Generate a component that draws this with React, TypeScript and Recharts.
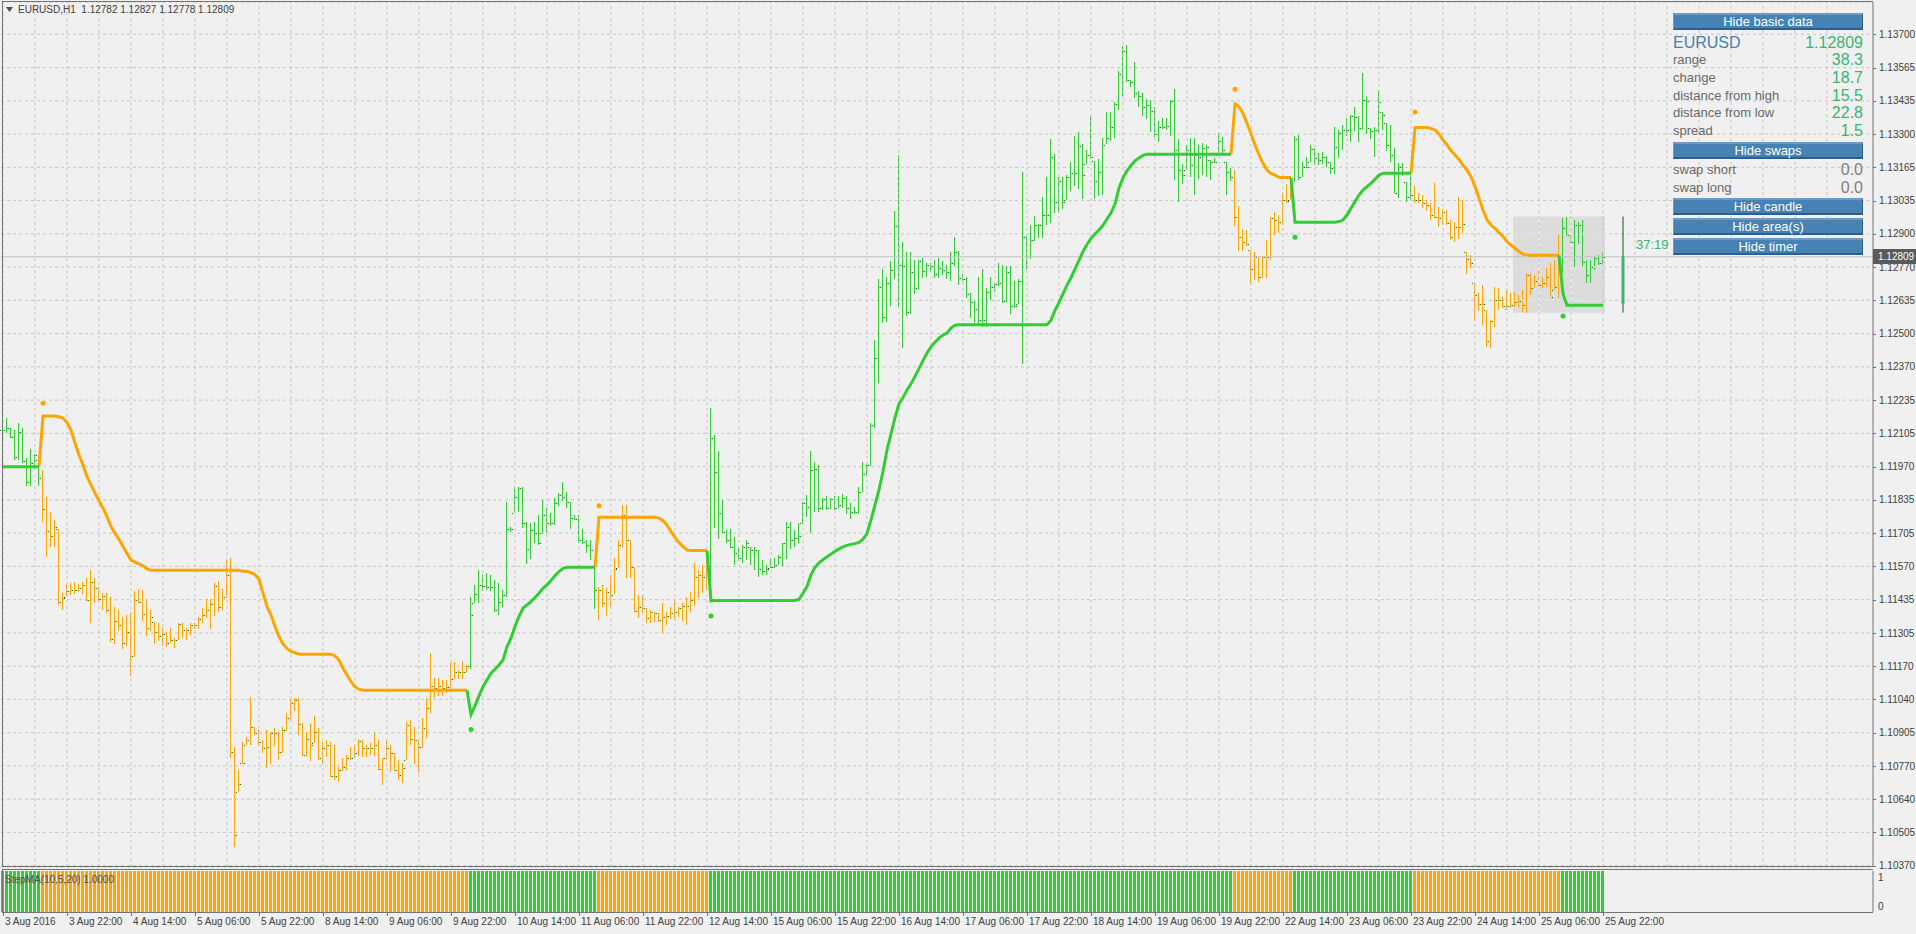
import React from 'react';
import { ComposedChart, Bar, Line, XAxis, YAxis, CartesianGrid, ReferenceLine, ReferenceArea } from 'recharts';

// ---------- DATA (prices stored as pips above 1.10000) ----------
const BASE = 1.1;
const PIP = 0.0001;

const highs = [
  214.2,216.2,212.2,211.5,214.2,212.2,200.2,203.8,201.9,199.5,
  195.5,184.8,178.8,175.5,171.8,146.1,149.7,150.4,150.6,149.8,
  150.8,152.1,155.5,152.1,148.8,146.1,146.1,144.8,140.8,139.4,
  136.8,137.4,138.1,147.2,147.7,147.4,143.4,139.4,134.8,134.1,
  132.1,130.8,132.1,128.1,134.1,134.1,132.1,134.1,134.1,136.8,
  140.1,143.7,143.7,150.1,151.1,147.7,159.5,160.2,84.7,75.4,
  86.7,88.7,104.7,92.7,91.4,87.4,91.4,90.7,92.1,90.7,
  92.7,98.1,103.4,104.1,104.1,94.1,90.7,94.1,96.8,92.1,
  86.7,87.4,86.7,85.4,76.7,80.1,81.4,84.7,85.4,87.7,
  87.4,85.4,86.1,90.1,87.4,80.1,87.4,85.4,82.1,79.4,
  78.0,94.7,95.4,92.7,87.4,96.0,104.0,122.1,112.1,112.1,
  111.4,111.4,118.1,118.4,115.4,118.8,117.4,144.8,149.5,155.5,
  153.5,154.1,153.5,151.5,150.1,147.5,182.8,172.8,188.8,188.8,
  188.6,174.8,174.1,174.8,177.5,183.5,180.2,178.2,184.2,186.2,
  190.6,186.8,182.8,177.5,177.5,171.7,167.5,167.5,156.8,148.8,
  149.5,148.1,153.5,160.1,167.5,181.5,181.5,167.5,156.8,145.5,
  145.5,140.1,139.4,138.8,138.1,142.1,138.8,140.8,143.5,140.8,
  142.1,144.8,146.8,158.1,155.5,157.5,162.8,220.2,209.5,202.9,
  183.5,171.5,171.7,168.8,164.1,165.5,167.5,164.8,164.8,163.5,
  159.5,157.5,160.1,160.1,161.5,166.2,174.8,174.8,171.5,174.1,
  182.8,185.5,202.9,198.7,197.3,184.4,185.1,184.4,185.1,185.1,
  185.8,185.1,182.2,180.8,188.7,198.7,198.0,214.5,247.5,272.0,
  275.8,272.7,279.1,299.2,321.5,287.0,282.7,283.0,279.8,279.8,
  280.6,278.4,278.4,279.8,280.6,279.0,277.7,282.7,288.7,283.4,
  274.1,272.7,266.2,263.3,272.7,275.8,268.4,272.7,270.5,278.4,
  277.7,277.0,277.0,271.2,272.0,315.0,289.2,293.5,297.1,294.2,
  305.0,312.8,327.9,322.2,312.8,312.8,313.6,318.9,329.4,330.8,
  326.1,323.6,337.3,319.3,320.0,328.6,338.7,339.0,343.0,355.2,
  365.3,365.7,351.6,358.8,347.3,346.6,344.0,343.7,340.8,335.1,
  336.5,336.5,343.7,348.0,327.9,317.9,325.8,328.6,328.6,325.8,
  326.3,325.7,319.7,320.3,330.3,329.0,319.0,316.3,315.6,301.2,
  291.9,291.6,283.6,283.0,280.9,281.2,287.6,297.0,299.0,297.6,
  306.3,310.0,311.6,329.3,329.7,319.0,321.0,325.7,324.3,322.6,
  323.0,321.3,319.0,333.0,331.7,333.7,336.3,337.7,340.7,337.3,
  354.4,345.0,332.3,333.0,347.7,339.0,334.3,333.7,324.3,318.3,
  318.3,311.0,314.3,309.2,306.3,305.6,303.6,302.3,310.3,301.0,
  299.9,299.6,295.6,295.0,305.0,303.6,283.0,281.6,270.3,266.3,
  269.6,259.6,255.6,268.9,268.3,264.9,267.6,266.3,266.9,265.6,
  267.6,274.3,274.3,273.6,275.6,272.9,276.9,278.3,279.6,290.3,
  296.3,297.0,290.3,295.6,295.0,295.6,279.6,279.6,280.9,281.6,
  282.7,
];

const lows = [
  206.9,210.2,208.2,199.5,199.5,198.2,188.8,188.8,196.6,189.1,
  174.8,160.8,164.8,164.8,141.4,139.4,144.8,145.4,145.8,146.4,
  146.1,142.8,134.1,142.1,142.8,139.4,138.1,126.8,126.1,130.8,
  124.1,124.8,112.8,120.8,142.1,134.8,129.0,130.8,126.1,126.8,
  124.8,124.8,126.1,124.1,127.4,128.1,127.4,129.4,131.7,132.1,
  134.1,136.1,131.7,136.8,138.8,139.4,144.1,80.0,44.7,66.7,
  78.0,85.4,85.4,89.4,85.4,82.1,76.1,78.0,84.7,79.4,
  82.1,90.7,95.4,98.8,89.4,80.7,80.7,78.7,86.1,79.4,
  78.0,80.7,72.7,71.4,70.7,74.7,75.4,79.4,80.1,80.7,
  80.7,80.7,81.4,80.7,75.4,69.4,79.4,74.7,74.7,71.4,
  70.1,79.4,85.4,78.0,74.0,84.0,88.0,98.0,104.0,105.0,
  105.0,106.0,107.0,111.4,111.6,111.6,114.1,116.1,142.4,142.4,
  147.1,147.1,147.1,138.8,137.4,140.8,144.8,170.8,178.4,178.8,
  172.1,158.1,159.5,166.2,165.5,170.1,170.1,172.8,173.5,180.8,
  182.8,180.2,172.1,175.5,166.2,165.5,162.1,159.5,140.1,135.4,
  140.8,136.8,140.8,145.5,156.1,164.1,152.1,152.1,138.8,136.1,
  138.1,134.1,134.1,134.8,134.4,130.1,133.4,136.1,135.4,136.8,
  134.8,133.4,138.8,140.8,144.1,146.1,147.5,142.1,172.1,167.5,
  170.1,166.2,164.1,157.5,158.8,158.1,159.5,157.5,155.5,152.8,
  153.5,153.5,156.1,156.1,157.5,156.8,160.1,164.1,164.8,166.2,
  174.1,176.8,170.1,178.6,178.6,179.4,179.4,180.1,179.4,180.1,
  180.1,177.9,175.8,177.9,177.9,186.5,193.0,197.3,212.4,230.3,
  254.0,254.7,261.2,272.0,260.5,244.7,256.9,258.3,266.2,267.6,
  272.7,272.7,274.8,272.7,272.7,273.5,272.0,271.2,277.0,269.8,
  271.2,264.1,256.2,254.0,254.0,252.6,252.6,263.3,266.9,269.1,
  262.6,262.6,257.6,260.5,261.9,238.2,275.8,279.8,287.0,288.5,
  288.5,293.5,294.2,298.5,298.5,299.9,303.5,307.1,309.3,307.8,
  304.2,317.9,320.0,304.2,305.0,305.7,325.8,327.2,328.6,339.4,
  345.2,350.9,348.7,344.5,340.8,337.3,336.0,330.8,328.6,326.5,
  332.2,331.5,329.4,311.4,302.8,310.0,315.7,312.8,305.7,312.1,
  313.6,313.0,311.6,318.3,321.7,322.3,305.6,311.0,293.2,283.0,
  283.0,285.0,269.6,271.6,270.9,272.3,272.3,279.6,289.6,290.3,
  293.6,302.3,303.6,311.0,311.6,313.0,316.7,319.0,317.6,317.6,
  318.3,317.0,314.0,314.3,320.3,323.7,329.0,327.0,331.0,327.0,
  331.7,330.3,327.7,321.0,330.3,331.7,323.0,319.0,306.3,304.3,
  313.0,303.0,303.6,302.3,302.3,300.3,299.0,295.4,296.3,293.0,
  293.6,293.6,287.6,287.0,288.3,290.3,274.3,276.3,254.9,258.9,
  253.6,244.9,244.2,252.9,259.6,260.3,259.6,260.3,260.9,260.3,
  258.9,258.2,265.6,268.3,268.9,268.3,268.9,264.9,267.6,264.3,
  274.3,289.6,286.3,276.9,286.3,276.3,270.3,270.3,275.6,277.6,
  277.8,
];

const closes = [
  211.5,212.2,208.6,200.6,210.6,199.1,190.6,198.2,201.4,192.2,
  179.8,171.2,169.1,172.6,142.8,144.1,147.1,147.5,147.5,148.1,
  149.4,143.4,150.8,148.1,143.7,145.0,139.4,127.8,135.2,133.4,
  126.1,130.8,121.0,143.4,142.8,137.7,132.1,136.5,130.5,129.2,
  129.8,126.1,127.4,127.4,133.7,131.4,131.4,133.4,133.4,135.7,
  137.4,139.4,141.8,149.1,140.8,144.5,153.5,82.7,49.3,69.8,
  78.3,87.4,92.7,90.1,86.7,84.1,84.7,90.1,90.1,82.7,
  91.4,96.1,102.1,103.4,93.6,81.4,87.7,85.4,90.7,80.1,
  84.1,85.4,72.9,72.9,75.4,76.7,80.1,80.1,82.1,87.1,
  84.1,84.1,84.1,85.4,75.6,80.1,84.1,82.1,75.4,73.4,
  76.1,93.4,87.7,87.4,84.7,92.0,100.0,109.0,108.0,109.0,
  108.0,108.5,111.8,114.7,114.4,114.4,116.8,137.4,145.9,149.5,
  149.1,148.8,148.8,139.4,142.8,145.5,171.7,171.7,184.8,188.2,
  174.4,163.9,171.5,170.1,166.2,177.5,174.2,174.4,182.2,185.5,
  184.8,182.8,176.2,175.8,167.5,166.8,165.5,163.5,147.5,147.5,
  142.1,146.8,145.5,155.7,165.5,177.5,167.5,156.8,139.2,140.5,
  140.1,136.1,138.8,138.1,135.4,136.8,137.0,138.1,138.8,140.1,
  141.0,141.0,143.5,152.8,153.5,152.8,156.8,208.2,194.8,178.2,
  170.8,167.5,164.5,162.1,160.4,164.8,166.2,163.5,163.5,155.7,
  155.2,155.7,156.8,157.5,160.8,166.2,172.8,167.5,168.2,169.1,
  182.2,180.8,195.5,195.9,180.1,184.0,180.1,184.0,180.1,181.5,
  184.4,180.1,178.6,178.6,186.5,193.7,197.3,213.5,240.4,268.6,
  256.9,270.5,275.5,293.1,277.7,277.0,258.6,274.8,268.4,279.1,
  275.3,277.7,277.3,274.1,276.3,275.5,274.8,278.4,282.7,272.4,
  272.0,265.8,262.6,260.0,255.4,255.4,266.6,268.6,270.1,270.5,
  263.3,274.8,261.2,261.2,271.2,288.7,281.3,287.7,293.5,293.5,
  297.8,297.8,320.8,302.8,311.4,302.8,312.8,314.3,314.3,325.1,
  313.6,321.5,320.8,311.4,315.0,325.8,328.6,332.7,341.9,354.2,
  363.5,351.6,350.9,346.6,345.2,340.8,341.5,339.4,330.1,332.7,
  333.0,333.2,343.3,323.6,315.7,313.6,323.6,317.5,321.5,320.8,
  324.3,325.0,319.0,319.0,327.4,323.7,315.0,313.0,296.7,288.7,
  287.0,285.9,275.9,280.9,272.7,280.9,280.9,296.6,295.6,295.0,
  303.6,303.4,305.4,327.9,313.0,317.0,317.0,323.9,320.3,319.7,
  321.0,319.0,316.3,325.0,330.6,331.7,331.7,337.3,336.7,332.3,
  343.7,343.4,331.3,331.7,343.0,337.7,325.7,321.7,306.3,317.0,
  314.3,305.0,305.6,303.6,303.6,302.3,301.6,297.6,297.0,296.3,
  299.0,294.6,288.7,293.0,293.0,294.0,279.9,278.5,265.6,262.0,
  262.0,247.3,255.3,263.6,263.6,261.2,261.2,261.6,262.9,263.3,
  261.6,273.6,268.3,271.3,269.6,270.3,272.9,264.9,268.9,278.3,
  292.3,289.6,287.0,293.6,293.6,278.9,273.6,276.9,280.3,278.2,
  280.9,
];

// StepMA(10,5,20) line value per bar
const stepMA = [
  196.8,196.8,196.8,196.8,196.8,196.8,196.8,196.8,196.8,196.8,
  217.1,217.1,217.1,217.1,216.8,216.2,214.5,211.5,206.2,201.5,
  197.5,192.8,189.5,186.2,183.2,180.2,176.8,172.8,170.1,167.7,
  164.8,162.1,159.5,158.5,157.9,157.1,155.9,155.3,155.3,155.3,
  155.3,155.3,155.3,155.3,155.3,155.3,155.3,155.3,155.3,155.3,
  155.3,155.3,155.3,155.3,155.3,155.3,155.3,155.3,155.3,155.3,
  154.9,154.8,154.4,153.6,151.7,146.1,140.8,137.4,132.8,128.8,
  125.8,124.0,122.8,122.3,121.8,121.7,121.7,121.7,121.7,121.7,
  121.7,121.7,121.7,121.0,119.4,116.1,113.4,110.7,108.7,107.7,
  107.3,107.3,107.3,107.3,107.3,107.3,107.3,107.3,107.3,107.3,
  107.3,107.3,107.3,107.3,107.3,107.3,107.3,107.3,107.3,107.3,
  107.3,107.3,107.3,107.3,107.3,107.3,107.3,97.5,101.0,105.0,
  108.7,111.4,114.1,115.7,117.4,119.4,124.7,128.1,132.8,136.8,
  140.1,141.5,142.8,144.4,146.1,148.1,149.5,151.2,153.1,154.8,
  156.1,156.5,156.5,156.5,156.5,156.5,156.5,156.5,156.5,176.6,
  176.6,176.6,176.6,176.6,176.6,176.6,176.6,176.6,176.6,176.6,
  176.6,176.6,176.6,176.6,176.2,175.2,173.5,170.8,168.5,166.4,
  164.8,163.5,163.2,163.2,163.2,163.2,163.2,143.2,143.2,143.2,
  143.2,143.2,143.2,143.2,143.2,143.2,143.2,143.2,143.2,143.2,
  143.2,143.2,143.2,143.2,143.2,143.2,143.2,143.2,143.2,143.7,
  146.1,148.8,153.5,156.5,158.3,159.6,160.7,161.8,162.9,163.9,
  164.7,165.3,165.7,166.0,166.5,167.8,170.0,175.5,181.5,187.5,
  195.0,203.5,210.0,216.5,222.0,224.5,227.5,230.0,233.0,236.1,
  239.3,242.3,244.8,246.7,248.3,249.5,250.3,252.3,253.5,253.7,
  253.7,253.7,253.7,253.7,253.7,253.7,253.7,253.7,253.7,253.7,
  253.7,253.7,253.7,253.7,253.7,253.7,253.7,253.7,253.7,253.7,
  253.7,253.7,255.5,259.5,262.5,266.0,269.5,272.5,276.0,279.5,
  283.0,285.8,288.2,290.0,291.6,293.5,296.0,298.5,302.0,308.5,
  312.5,315.3,317.5,319.3,320.5,321.5,322.0,322.0,322.0,322.0,
  322.0,322.0,322.0,322.0,322.0,322.0,322.0,322.0,322.0,322.0,
  322.0,322.0,322.0,322.0,322.0,322.0,322.0,322.0,342.1,341.0,
  338.3,334.3,330.3,325.7,321.7,318.3,315.6,314.3,313.6,312.7,
  312.6,312.6,312.6,294.7,294.7,294.7,294.7,294.7,294.7,294.7,
  294.7,294.7,294.7,294.7,295.0,295.6,297.6,300.3,303.0,305.6,
  307.6,309.0,310.3,311.9,313.6,314.3,314.3,314.3,314.3,314.3,
  314.3,314.3,314.3,332.7,332.7,332.7,332.7,332.3,331.7,330.1,
  327.7,325.7,323.4,321.7,319.9,317.6,315.6,313.0,309.0,304.3,
  299.6,295.6,293.6,292.3,290.6,289.0,287.0,285.6,284.3,283.0,
  282.0,281.6,281.5,281.5,281.5,281.5,281.5,281.5,281.5,281.5,
  266.0,261.5,261.5,261.5,261.5,261.5,261.5,261.5,261.5,261.5,
  261.5,
];

// trend segments (bar index where a trend starts, and its direction)
const trendStarts = [0, 10, 117, 149, 177, 308, 323, 353, 390];
const trendIsUp = [true, false, true, false, true, false, true, false, true];

// signal dots
const signalBars = [10, 117, 149, 177, 308, 323, 353, 390];
const signalLevels = [222.2, 91.6, 181.2, 137.0, 348.0, 288.7, 338.9, 257.2];

const timeLabels = [
  '3 Aug 2016', '3 Aug 22:00', '4 Aug 14:00', '5 Aug 06:00', '5 Aug 22:00', '8 Aug 14:00',
  '9 Aug 06:00', '9 Aug 22:00', '10 Aug 14:00', '11 Aug 06:00', '11 Aug 22:00', '12 Aug 14:00',
  '15 Aug 06:00', '15 Aug 22:00', '16 Aug 14:00', '17 Aug 06:00', '17 Aug 22:00', '18 Aug 14:00',
  '19 Aug 06:00', '19 Aug 22:00', '22 Aug 14:00', '23 Aug 06:00', '23 Aug 22:00', '24 Aug 14:00',
  '25 Aug 06:00', '25 Aug 22:00',
];

const priceLabels = [
  '1.13700', '1.13565', '1.13435', '1.13300', '1.13165', '1.13035', '1.12900', '1.12770', '1.12635',
  '1.12500', '1.12370', '1.12235', '1.12105', '1.11970', '1.11835', '1.11705', '1.11570', '1.11435',
  '1.11305', '1.11170', '1.11040', '1.10905', '1.10770', '1.10640', '1.10505', '1.10370',
];

const areaFrom = 378, areaTo = 400, areaHigh = 297.0, areaLow = 258.5;
const dayOpen = 262.1, dayHigh = 297.0, dayLow = 258.5, dayClose = 280.9;
const candleBar = 405;
const lastPrice = 280.9;
const titleSymbol = 'EURUSD,H1';
const titleOHLC = ['1.12782', '1.12827', '1.12778', '1.12809'];
const timerText = '37:19';

const basicRows = [
  { label: 'range', value: '38.3' },
  { label: 'change', value: '18.7' },
  { label: 'distance from high', value: '15.5' },
  { label: 'distance from low', value: '22.8' },
  { label: 'spread', value: '1.5' },
];
const swapRows = [
  { label: 'swap short', value: '0.0' },
  { label: 'swap long', value: '0.0' },
];
const symbolName = 'EURUSD';
const symbolPrice = '1.12809';
const indicatorName = 'StepMA(10,5,20) 1.0000';

// ---------- STYLE / LAYOUT ----------
const GREEN = '#32CD32';
const ORANGE = '#FFA500';
const TICKC = '#008000';
const GRID = '#c6c6c6';
const FRAME = '#737373';
const TEXT = '#404040';
const BG = '#f0f0f0';
const FONT = '"Liberation Sans", Arial, sans-serif';
const W = 1916;
const MAIN_H = 867;
const MAIN_SVG_H = 880;
const AXIS_W = 43;
const CATS = 468;
// price axis: labels at 1.13700 (y=34.3) to 1.10370 (y=865.7)
const PX_PER_UNIT = (865.7 - 34.3) / 0.0333;
const Y_TOP = 1.137 + (34.3 - 2) / PX_PER_UNIT;
const Y_BOT = 1.137 - (MAIN_H - 34.3) / PX_PER_UNIT;
const priceTicks = priceLabels.map((_, k) => 1.137 - (k * 0.0333) / 25);
const gridTicks = Array.from({ length: Math.floor(CATS / 8) }, (_, k) => k * 8);
const labelTicks = timeLabels.map((_, k) => k * 16);

const toPrice = (p: number) => BASE + p * PIP;
const trendAt = (i: number) => {
  let up = true;
  for (let k = 0; k < trendStarts.length; k++) if (i >= trendStarts[k]) up = trendIsUp[k];
  return up;
};

const N = highs.length;
const rows = Array.from({ length: CATS }, (_, i) => {
  if (i >= N) return { i } as any;
  const up = trendAt(i);
  const isJoin = trendStarts.includes(i + 1) && i + 1 < N;
  const nextUp = i + 1 < N ? trendAt(i + 1) : up;
  const v = toPrice(stepMA[i]);
  const s = signalBars.indexOf(i);
  return {
    i,
    hl: [toPrice(lows[i]), toPrice(highs[i])],
    h: toPrice(highs[i]),
    l: toPrice(lows[i]),
    o: toPrice(i > 0 ? closes[i - 1] : closes[i]), // FX open = previous close
    c: toPrice(closes[i]),
    upTrend: up,
    maUp: up || (isJoin && nextUp) ? v : null,
    maDn: !up || (isJoin && !nextUp) ? v : null,
    sigUp: s >= 0 && up ? toPrice(signalLevels[s]) : null,
    sigDn: s >= 0 && !up ? toPrice(signalLevels[s]) : null,
    ind: 1,
  };
});

// grid lines that fall inside the shaded day-area are drawn lighter (as in the terminal)
const areaGridX = gridTicks.filter((t) => t > areaFrom && t < areaTo);
const areaGridY = priceTicks.filter((t) => t > toPrice(areaLow) && t < toPrice(areaHigh));

const OhlcShape = (p: any) => {
  const d = p.payload;
  if (!d || !d.hl) return null;
  const top = Math.min(p.y, p.y + p.height);
  const h = Math.abs(p.height);
  const bx = Math.floor(p.x + p.width / 2);
  const span = d.h - d.l || 1e-9;
  const clamp = (v: number) => Math.max(d.l, Math.min(d.h, v));
  const yOf = (v: number) => Math.round(top + ((d.h - clamp(v)) / span) * h);
  const yo = yOf(d.o);
  const yc = yOf(d.c);
  return (
    <g>
      <rect x={bx} y={Math.round(top)} width={1} height={Math.max(1, Math.round(h))} fill={d.upTrend ? GREEN : ORANGE} />
      <rect x={bx - 2} y={yo} width={1} height={1} fill={TICKC} />
      <rect x={bx + 2} y={yc} width={1} height={1} fill={TICKC} />
      <rect x={bx + 1} y={yc} width={1} height={1} fill="#2a8a2a" opacity={0.5} />
    </g>
  );
};

const IndShape = (p: any) => {
  const d = p.payload;
  if (!d || d.ind == null) return null;
  const cx = Math.floor(p.x + p.width / 2);
  const top = Math.min(p.y, p.y + p.height);
  return <rect x={cx - 1} y={top} width={3} height={Math.abs(p.height)} fill={d.upTrend ? GREEN : ORANGE} />;
};

const PriceTick = (p: any) => {
  const { x, y, index } = p;
  return (
    <g>
      <line x1={x} x2={x + 3} y1={Math.round(y) + 0.5} y2={Math.round(y) + 0.5} stroke={FRAME} />
      <text x={x + 6} y={y} dy="0.36em" fontSize={10} fill={TEXT} fontFamily={FONT}>
        {priceLabels[index]}
      </text>
    </g>
  );
};

const SubTick = (p: any) => {
  const { x, y, payload } = p;
  const v = payload.value;
  return (
    <text x={x + 5} y={v === 1 ? y + 6 : y - 6} dy="0.36em" fontSize={10} fill={TEXT} fontFamily={FONT}>
      {String(v)}
    </text>
  );
};

const TimeTick = (p: any) => {
  const { x, y, payload } = p;
  const idx = labelTicks.indexOf(payload.value);
  const bx = Math.floor(x) + 0.5;
  return (
    <g>
      <line x1={bx} x2={bx} y1={y} y2={y + 4} stroke={FRAME} />
      <text x={x + 2} y={y + 13} fontSize={10} fill={TEXT} fontFamily={FONT}>
        {timeLabels[idx]}
      </text>
    </g>
  );
};

const Button = ({ top, label }: { top: number; label: string }) => (
  <div
    style={{
      position: 'absolute', left: 1673, top, width: 190, height: 17, boxSizing: 'border-box',
      background: '#4682B4', borderTop: '2px solid #6b9bcc', borderBottom: '2px solid #2e5e8c',
      borderLeft: '1px solid #6b9bcc', borderRight: '1px solid #2e5e8c',
      color: '#ffffff', fontFamily: FONT, fontSize: 13, lineHeight: '13px', textAlign: 'center',
    }}
  >
    {label}
  </div>
);

const RowLabel = ({ cy, text, color, size }: { cy: number; text: string; color: string; size: number }) => (
  <div style={{ position: 'absolute', left: 1673, top: cy - 10, height: 20, lineHeight: '20px', fontFamily: FONT, fontSize: size, color, whiteSpace: 'nowrap' }}>
    {text}
  </div>
);
const RowValue = ({ cy, text, color, size }: { cy: number; text: string; color: string; size: number }) => (
  <div style={{ position: 'absolute', right: W - 1863, top: cy - 10, height: 20, lineHeight: '20px', fontFamily: FONT, fontSize: size, color, whiteSpace: 'nowrap' }}>
    {text}
  </div>
);

export default function App() {
  const basicY = [60, 77.7, 95.7, 113.3, 131];
  const swapY = [170, 187.7];
  return (
    <div style={{ position: 'relative', width: W, height: 934, background: BG, overflow: 'hidden' }}>
      <style>{`body{margin:0;background:${BG};}`}</style>
      <div style={{ position: 'absolute', left: 0, top: 0 }}>
        <ComposedChart width={W} height={MAIN_SVG_H} data={rows} margin={{ top: 2, right: 0, bottom: MAIN_SVG_H - MAIN_H, left: 1 }} barCategoryGap={0} barGap={0}>
          <CartesianGrid stroke={GRID} strokeDasharray="3 3" vertical={false} />
          <XAxis dataKey="i" type="category" ticks={gridTicks} interval={0} tick={false} tickLine={false} axisLine={false} height={0} />
          <YAxis
            orientation="right" type="number" width={AXIS_W} domain={[Y_BOT, Y_TOP]} allowDataOverflow
            ticks={priceTicks} interval={0} tick={<PriceTick />} tickLine={false} tickSize={0} tickMargin={0}
            axisLine={{ stroke: FRAME }}
          />
          {gridTicks.map((t) => (
            <ReferenceLine key={'gx' + t} x={t} stroke={GRID} strokeDasharray="3 3" />
          ))}
          <ReferenceArea x1={areaFrom} x2={areaTo} y1={toPrice(areaLow)} y2={toPrice(areaHigh)} fill="#dcdcdc" fillOpacity={1} stroke="none" ifOverflow="visible" />
          {areaGridX.map((t) => (
            <ReferenceLine key={'ax' + t} segment={[{ x: t, y: toPrice(areaLow) }, { x: t, y: toPrice(areaHigh) }]} stroke="#f4f4f4" strokeDasharray="3 3" />
          ))}
          {areaGridY.map((t) => (
            <ReferenceLine key={'ay' + t} segment={[{ x: areaFrom, y: t }, { x: areaTo, y: t }]} stroke="#e8e8e8" strokeDasharray="3 3" />
          ))}
          <ReferenceLine y={toPrice(lastPrice)} stroke="#c0c0c0" />
          <Bar dataKey="hl" barSize={4} shape={<OhlcShape />} isAnimationActive={false} />
          <Line type="linear" dataKey="maDn" stroke={ORANGE} strokeWidth={3} dot={false} connectNulls={false} isAnimationActive={false} />
          <Line type="linear" dataKey="maUp" stroke={GREEN} strokeWidth={3} dot={false} connectNulls={false} isAnimationActive={false} />
          <Line dataKey="sigDn" stroke="none" dot={{ r: 2.5, fill: ORANGE, stroke: 'none' }} isAnimationActive={false} />
          <Line dataKey="sigUp" stroke="none" dot={{ r: 2.5, fill: GREEN, stroke: 'none' }} isAnimationActive={false} />
          <ReferenceLine segment={[{ x: candleBar, y: toPrice(dayLow) }, { x: candleBar, y: toPrice(dayHigh) }]} stroke="#006400" strokeWidth={1} ifOverflow="visible" />
          <ReferenceLine segment={[{ x: candleBar, y: toPrice(dayOpen) }, { x: candleBar, y: toPrice(dayClose) }]} stroke="#3CB371" strokeWidth={3} ifOverflow="visible" />
        </ComposedChart>
      </div>
      <div style={{ position: 'absolute', left: 0, top: MAIN_H }}>
        <ComposedChart width={W} height={66} data={rows} margin={{ top: 4, right: 0, bottom: 0, left: 1 }} barCategoryGap={0} barGap={0}>
          <XAxis dataKey="i" type="category" ticks={labelTicks} interval={0} tick={<TimeTick />} tickLine={false} tickSize={0} tickMargin={0} axisLine={false} height={21} />
          <YAxis orientation="right" type="number" width={AXIS_W} domain={[0, 1]} ticks={[0, 1]} interval={0} tick={<SubTick />} tickLine={false} tickSize={0} tickMargin={0} axisLine={{ stroke: FRAME }} />
          <Bar dataKey="ind" barSize={4} shape={<IndShape />} isAnimationActive={false} />
        </ComposedChart>
      </div>

      {/* frames */}
      <div style={{ position: 'absolute', left: 2, top: 1, width: 1871, height: MAIN_H - 1, boxSizing: 'border-box', borderLeft: `1px solid ${FRAME}`, borderTop: `1px solid ${FRAME}`, borderBottom: `1px solid ${FRAME}` }} />
      <div style={{ position: 'absolute', left: 2, top: 869, width: 1871, height: 44, boxSizing: 'border-box', borderLeft: `1px solid ${FRAME}`, borderTop: `1px solid ${FRAME}`, borderBottom: `1px solid ${FRAME}` }} />

      {/* title */}
      <svg style={{ position: 'absolute', left: 6, top: 7 }} width={8} height={6}>
        <polygon points="0,0 7,0 3.5,5" fill="#505050" />
      </svg>
      <div style={{ position: 'absolute', left: 18, top: 3, fontFamily: FONT, fontSize: 10, lineHeight: '14px', color: TEXT, whiteSpace: 'pre' }}>
        {titleSymbol + '  ' + titleOHLC.join(' ')}
      </div>

      {/* indicator label */}
      <div style={{ position: 'absolute', left: 5, top: 873, fontFamily: FONT, fontSize: 10, lineHeight: '14px', color: '#505050', whiteSpace: 'pre' }}>
        {indicatorName}
      </div>

      {/* info panel */}
      <Button top={13} label="Hide basic data" />
      <RowLabel cy={42.7} text={symbolName} color="#4682B4" size={16} />
      <RowValue cy={42.7} text={symbolPrice} color="#3CB371" size={16} />
      {basicRows.map((r, k) => (
        <React.Fragment key={r.label}>
          <RowLabel cy={basicY[k]} text={r.label} color="#696969" size={13} />
          <RowValue cy={basicY[k]} text={r.value} color="#3CB371" size={16} />
        </React.Fragment>
      ))}
      <Button top={142} label="Hide swaps" />
      {swapRows.map((r, k) => (
        <React.Fragment key={r.label}>
          <RowLabel cy={swapY[k]} text={r.label} color="#696969" size={13} />
          <RowValue cy={swapY[k]} text={r.value} color="#808080" size={16} />
        </React.Fragment>
      ))}
      <Button top={198} label="Hide candle" />
      <Button top={218} label="Hide area(s)" />
      <Button top={238} label="Hide timer" />

      {/* timer */}
      <div style={{ position: 'absolute', left: 1636, top: 236, fontFamily: FONT, fontSize: 13, lineHeight: '18px', color: '#3CB371' }}>{timerText}</div>

      {/* price box on axis */}
      <div style={{ position: 'absolute', left: 1873, top: 249, width: 43, height: 15, background: '#5a5a5a', color: '#ffffff', fontFamily: FONT, fontSize: 10, lineHeight: '15px', paddingLeft: 5, boxSizing: 'border-box' }}>
        {symbolPrice}
      </div>
    </div>
  );
}
